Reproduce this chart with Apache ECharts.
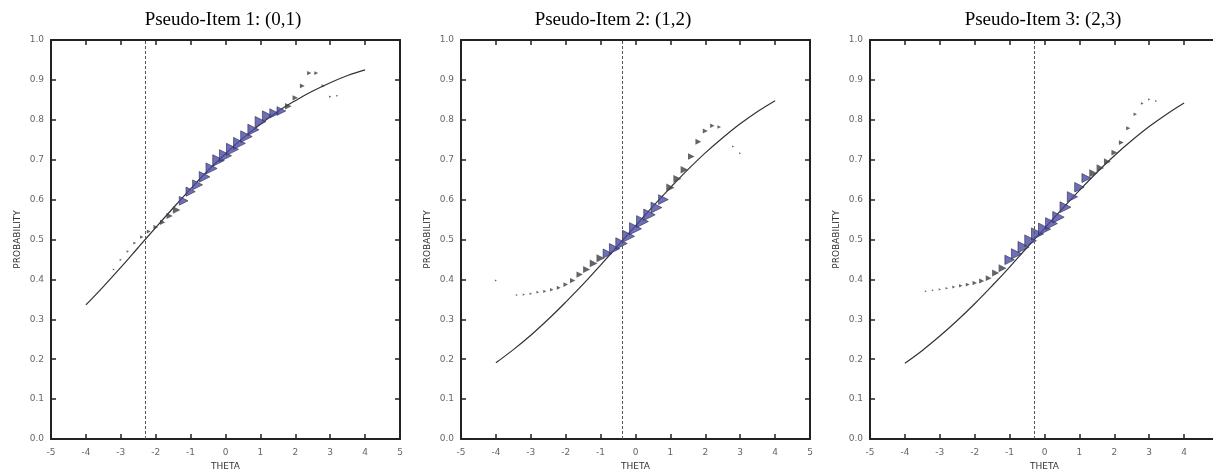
<!DOCTYPE html>
<html>
<head>
<meta charset="utf-8">
<script src="https://cdn.jsdelivr.net/npm/echarts@6/dist/echarts.min.js"></script>
<style>
  html, body { margin: 0; padding: 0; background: #fff; }
  #chart { width: 1213px; height: 472px; }
</style>
</head>
<body>
<div id="chart"></div>
<script>
// panel titles and the location (b) of each pseudo-item
var titles = ['Pseudo-Item 1: (0,1)', 'Pseudo-Item 2: (1,2)', 'Pseudo-Item 3: (2,3)'];
var bLoc = [-2.3, -0.37, -0.29];

var thetaCurve = [-4, -3.5, -3, -2.5, -2, -1.5, -1, -0.5, 0, 0.5, 1, 1.5, 2, 2.5, 3, 3.5, 4];
var curve1 = [0.336, 0.382, 0.430, 0.480, 0.530, 0.579, 0.627, 0.673, 0.715, 0.754, 0.789, 0.821, 0.848, 0.872, 0.893, 0.911, 0.925];
var curve2 = [0.191, 0.224, 0.260, 0.300, 0.343, 0.388, 0.436, 0.485, 0.534, 0.583, 0.630, 0.675, 0.717, 0.755, 0.790, 0.821, 0.848];
var curve3 = [0.190, 0.222, 0.258, 0.297, 0.339, 0.384, 0.431, 0.480, 0.528, 0.576, 0.623, 0.668, 0.710, 0.748, 0.783, 0.814, 0.842];

// empirical proportions (theta, p, number of observations)
var theta1 = [-3.2, -3.0, -2.8, -2.6, -2.4, -2.2, -2.0, -1.8, -1.6, -1.4, -1.2, -1.0, -0.8, -0.6, -0.4, -0.2, 0, 0.2, 0.4, 0.6, 0.8, 1.0, 1.2, 1.4, 1.6, 1.8, 2.0, 2.2, 2.4, 2.6, 2.8, 3.0, 3.2];
var p1 = [0.425, 0.449, 0.470, 0.491, 0.506, 0.520, 0.531, 0.543, 0.559, 0.574, 0.597, 0.620, 0.637, 0.657, 0.678, 0.698, 0.710, 0.726, 0.741, 0.758, 0.775, 0.795, 0.810, 0.816, 0.822, 0.834, 0.855, 0.885, 0.917, 0.917, 0.885, 0.858, 0.860];
var n1 = [15, 18, 20, 24, 28, 32, 38, 45, 52, 62, 72, 76, 82, 88, 92, 96, 100, 100, 98, 95, 92, 88, 82, 76, 72, 55, 45, 40, 35, 32, 28, 20, 15];

var theta2 = [-4.0, -3.4, -3.2, -3.0, -2.8, -2.6, -2.4, -2.2, -2.0, -1.8, -1.6, -1.4, -1.2, -1.0, -0.8, -0.6, -0.4, -0.2, 0, 0.2, 0.4, 0.6, 0.8, 1.0, 1.2, 1.4, 1.6, 1.8, 2.0, 2.2, 2.4, 2.8, 3.0];
var p2 = [0.397, 0.361, 0.362, 0.364, 0.368, 0.370, 0.374, 0.379, 0.387, 0.397, 0.412, 0.425, 0.440, 0.453, 0.465, 0.477, 0.490, 0.508, 0.527, 0.545, 0.562, 0.580, 0.600, 0.630, 0.652, 0.675, 0.708, 0.745, 0.772, 0.785, 0.782, 0.733, 0.716];
var n2 = [12, 15, 18, 20, 22, 25, 28, 32, 38, 45, 52, 58, 64, 68, 74, 85, 95, 100, 100, 98, 95, 90, 80, 68, 66, 62, 55, 48, 42, 36, 30, 18, 15];

var theta3 = [-3.4, -3.2, -3.0, -2.8, -2.6, -2.4, -2.2, -2.0, -1.8, -1.6, -1.4, -1.2, -1.0, -0.8, -0.6, -0.4, -0.2, 0, 0.2, 0.4, 0.6, 0.8, 1.0, 1.2, 1.4, 1.6, 1.8, 2.0, 2.2, 2.4, 2.6, 2.8, 3.0, 3.2];
var p3 = [0.370, 0.373, 0.375, 0.378, 0.381, 0.384, 0.387, 0.391, 0.396, 0.403, 0.416, 0.428, 0.449, 0.464, 0.481, 0.497, 0.514, 0.526, 0.540, 0.556, 0.581, 0.607, 0.631, 0.654, 0.666, 0.679, 0.695, 0.718, 0.743, 0.779, 0.814, 0.841, 0.851, 0.847];
var n3 = [12, 15, 18, 20, 24, 28, 32, 36, 42, 48, 58, 66, 78, 85, 92, 96, 100, 100, 98, 95, 90, 85, 78, 74, 68, 62, 56, 48, 40, 34, 28, 22, 18, 15];

var curves = [curve1, curve2, curve3];
var pts = [[theta1, p1, n1], [theta2, p2, n2], [theta3, p3, n3]];

var gridLeft = [51, 461, 870];
var titleX = [223, 613, 1043];

var chart = echarts.init(document.getElementById('chart'));

var option = {
  animation: false,
  backgroundColor: '#fff',
  title: [],
  grid: [],
  xAxis: [],
  yAxis: [],
  series: []
};

var tickStyle = { show: true, inside: true, length: 5, lineStyle: { color: '#222', width: 1.5 } };
var lineStyle = { show: true, onZero: false, lineStyle: { color: '#222', width: 2 } };
var labelFont = { color: '#666', fontSize: 9, fontFamily: 'DejaVu Sans' };

for (var i = 0; i < 3; i++) {
  option.title.push({
    text: titles[i],
    left: titleX[i],
    top: 11,
    padding: 0,
    textAlign: 'center',
    textStyle: { fontFamily: 'Liberation Serif', fontWeight: 'normal', fontSize: 19, color: '#000' }
  });
  option.grid.push({
    left: gridLeft[i], top: 40, width: 349, height: 399,
    outerBoundsMode: 'none', containLabel: false
  });

  option.xAxis.push({
    type: 'value', gridIndex: i, position: 'bottom', min: -5, max: 5, interval: 1,
    name: 'THETA', nameLocation: 'middle', nameGap: 23,
    nameTextStyle: { color: '#333', fontSize: 9, fontFamily: 'DejaVu Sans' },
    axisLine: lineStyle, axisTick: tickStyle,
    axisLabel: Object.assign({ margin: 9 }, labelFont),
    splitLine: { show: false }
  });
  option.xAxis.push({
    type: 'value', gridIndex: i, position: 'top', min: -5, max: 5, interval: 1,
    axisLine: lineStyle, axisTick: tickStyle, axisLabel: { show: false },
    splitLine: { show: false }
  });
  option.yAxis.push({
    type: 'value', gridIndex: i, position: 'left', min: 0, max: 1, interval: 0.1,
    name: 'PROBABILITY', nameLocation: 'middle', nameGap: 29,
    nameTextStyle: { color: '#333', fontSize: 9, fontFamily: 'DejaVu Sans' },
    axisLine: lineStyle, axisTick: tickStyle,
    axisLabel: Object.assign({ margin: 7, formatter: function (v) { return v.toFixed(1); } }, labelFont),
    splitLine: { show: false }
  });
  option.yAxis.push({
    type: 'value', gridIndex: i, position: 'right', min: 0, max: 1, interval: 0.1,
    axisLine: lineStyle, axisTick: tickStyle, axisLabel: { show: false },
    splitLine: { show: false }
  });

  var curveData = thetaCurve.map(function (t, k) { return [t, curves[i][k]]; });
  option.series.push({
    type: 'line', xAxisIndex: 2 * i, yAxisIndex: 2 * i,
    data: curveData, smooth: 0.4, showSymbol: false, symbol: 'none',
    lineStyle: { color: '#333', width: 1.2 },
    z: 2,
    markLine: {
      silent: true, symbol: 'none', label: { show: false },
      lineStyle: { color: '#555', width: 1, type: [3, 2] },
      data: [{ xAxis: bLoc[i] }]
    }
  });

  var th = pts[i][0], pp = pts[i][1], nn = pts[i][2];
  var scatData = th.map(function (t, k) {
    var n = nn[k];
    var big = n >= 70;
    return {
      value: [t, pp[k]],
      symbolSize: Math.max(2, n / 8.3),
      itemStyle: {
        color: big ? '#4b4ba6' : '#3c3c46',
        borderColor: big ? '#2e2e52' : '#333',
        borderWidth: big ? 0.8 : 0
      }
    };
  });
  option.series.push({
    type: 'scatter', xAxisIndex: 2 * i, yAxisIndex: 2 * i,
    data: scatData, symbol: 'triangle', symbolRotate: -90,
    z: 3
  });
}

chart.setOption(option);
</script>
</body>
</html>
